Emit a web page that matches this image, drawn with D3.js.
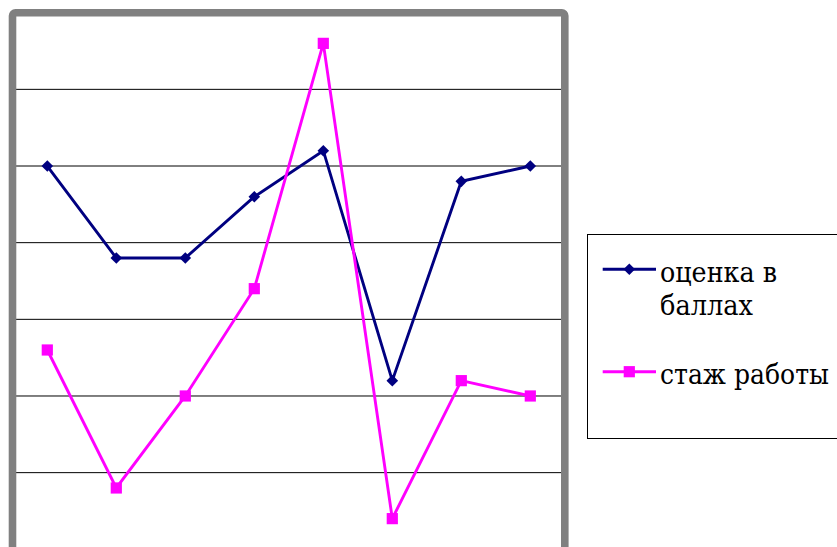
<!DOCTYPE html>
<html>
<head>
<meta charset="utf-8">
<script src="https://cdn.jsdelivr.net/npm/d3@7"></script>
<style>
  html, body { margin: 0; padding: 0; background: #fff; }
  svg { display: block; }
  .legend-text { font-family: "DejaVu Serif", serif; }
</style>
</head>
<body>
<svg id="chart" width="837" height="547"></svg>
<script>
// Categories (8 observations) and the two series plotted against them
const categories = ["1", "2", "3", "4", "5", "6", "7", "8"];
const scores     = [5.0, 3.8, 3.8, 4.6, 5.2, 2.2, 4.8, 5.0];   // оценка в баллах
const experience = [2.6, 0.8, 2.0, 3.4, 6.6, 0.4, 2.2, 2.0];   // стаж работы
const yTicks     = [0, 1, 2, 3, 4, 5, 6, 7];
const seriesNames = ["оценка в баллах", "стаж работы"];
// legend labels as they wrap inside the legend box
const legendLines = [["оценка в", "баллах"], ["стаж работы"]];

const svg = d3.select("#chart");

const plot = { left: 12.8, right: 564.8, top: 12.7, bottom: 549.3 };

const x = d3.scaleBand()
  .domain(categories)
  .range([plot.left, plot.right]);

const y = d3.scaleLinear()
  .domain([0, 7])
  .range([plot.bottom, plot.top]);

const cx = d => x(d) + x.bandwidth() / 2;

// horizontal gridlines
svg.append("g")
  .selectAll("line")
  .data(yTicks)
  .join("line")
  .attr("x1", plot.left)
  .attr("x2", plot.right)
  .attr("y1", d => y(d))
  .attr("y2", d => y(d))
  .attr("stroke", "#000")
  .attr("stroke-width", 1);

// plot area frame
svg.append("rect")
  .attr("x", plot.left - 0.3)
  .attr("y", plot.top)
  .attr("width", plot.right - plot.left + 0.3)
  .attr("height", 551 - plot.top)
  .attr("rx", 3)
  .attr("fill", "none")
  .attr("stroke", "#808080")
  .attr("stroke-width", 7.6);

const line = d3.line()
  .x((d, i) => cx(categories[i]))
  .y(d => y(d));

const series = [
  { name: seriesNames[0], values: scores, color: "#000080", marker: "diamond" },
  { name: seriesNames[1], values: experience, color: "#FF00FF", marker: "square" }
];

function drawMarker(g, type, color, px, py) {
  if (type === "diamond") {
    g.append("path")
      .attr("d", "M0,-5.8L5.8,0L0,5.8L-5.8,0Z")
      .attr("transform", `translate(${px},${py})`)
      .attr("fill", color);
  } else {
    g.append("rect")
      .attr("x", px - 5.6)
      .attr("y", py - 5.6)
      .attr("width", 11.2)
      .attr("height", 11.2)
      .attr("fill", color);
  }
}

series.forEach(s => {
  const g = svg.append("g");
  g.append("path")
    .datum(s.values)
    .attr("d", line)
    .attr("fill", "none")
    .attr("stroke", s.color)
    .attr("stroke-width", 2.9)
    .attr("stroke-linejoin", "miter");
  s.values.forEach((v, i) => drawMarker(g, s.marker, s.color, cx(categories[i]), y(v)));
});

// legend
const legend = svg.append("g");
legend.append("rect")
  .attr("x", 587.5)
  .attr("y", 234.5)
  .attr("width", 260)
  .attr("height", 204)
  .attr("fill", "#fff")
  .attr("stroke", "#000")
  .attr("stroke-width", 1);

const legendRows = [
  { s: series[0], y: 269.3, lines: legendLines[0], widths: [117, 93] },
  { s: series[1], y: 371.7, lines: legendLines[1], widths: [169] }
];

legendRows.forEach(r => {
  legend.append("line")
    .attr("x1", 602.7).attr("x2", 656)
    .attr("y1", r.y).attr("y2", r.y)
    .attr("stroke", r.s.color)
    .attr("stroke-width", 2.9);
  drawMarker(legend, r.s.marker, r.s.color, 629.3, r.y);
  r.lines.forEach((t, k) => {
    const txt = legend.append("text")
      .attr("class", "legend-text")
      .attr("font-size", 28)
      .attr("fill", "#000")
      .text(t);
    // narrow the serif face horizontally to the label's width
    const natural = txt.node().getComputedTextLength();
    const sx = r.widths[k] / natural;
    txt.attr("transform", `translate(660, ${r.y + 12.4 + k * 33.3}) scale(${sx}, 1)`);
  });
});
</script>
</body>
</html>
